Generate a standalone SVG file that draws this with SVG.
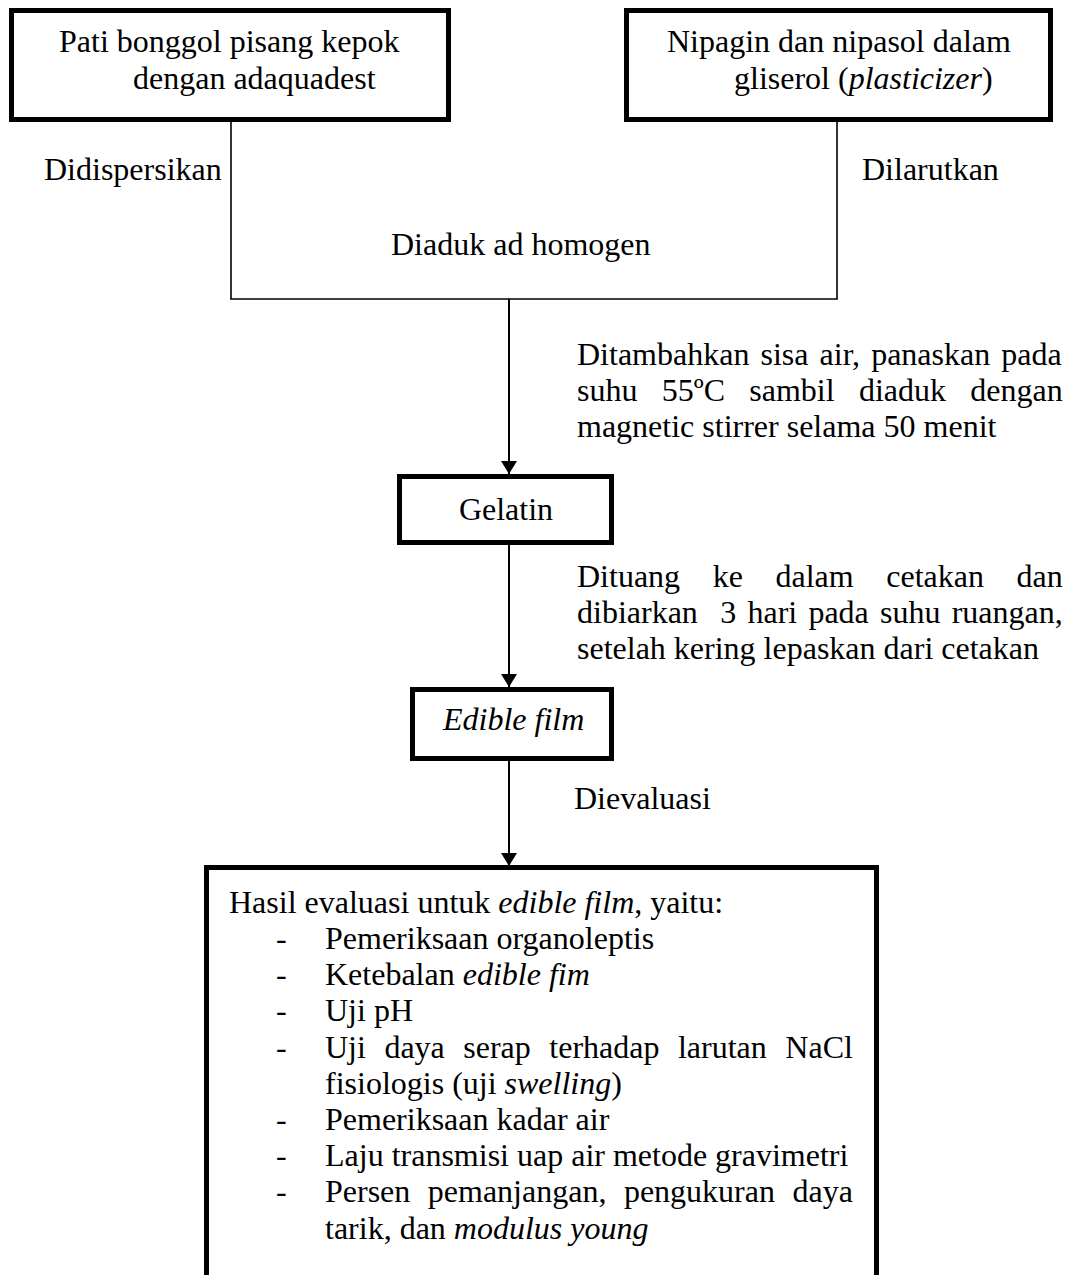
<svg xmlns="http://www.w3.org/2000/svg" width="1075" height="1275" viewBox="0 0 1075 1275">
<style>
text { font-family: "Liberation Serif", "Times New Roman", serif; font-size: 32px; fill: #000; }
.it { font-style: italic; }
.box { fill: #fff; stroke: #000; stroke-width: 5; }
.thin { stroke: #000; stroke-width: 1.6; fill: none; }
.main { stroke: #000; stroke-width: 2; fill: none; }
</style>
<defs>
<marker id="arr" viewBox="0 0 13 16" refX="13" refY="8" markerWidth="13" markerHeight="16" markerUnits="userSpaceOnUse" orient="auto">
<path d="M0,0 L13,8 L0,16 z" fill="#000"/>
</marker>
</defs>
<rect width="1075" height="1275" fill="#fff"/>

<g id="connectors">
<line class="thin" x1="231" y1="122" x2="231" y2="299"/>
<line class="thin" x1="837" y1="122" x2="837" y2="299"/>
<line class="thin" x1="230.2" y1="299" x2="837.8" y2="299"/>
<line class="main" x1="509" y1="299" x2="509" y2="474" marker-end="url(#arr)"/>
<line class="main" x1="509" y1="545" x2="509" y2="687" marker-end="url(#arr)"/>
<line class="main" x1="509" y1="761" x2="509" y2="866" marker-end="url(#arr)"/>
</g>

<g id="labels">
<text x="44" y="180">Didispersikan</text>
<text x="862" y="180">Dilarutkan</text>
<text x="391" y="255">Diaduk ad homogen</text>
<text x="577" y="365" word-spacing="3.1">Ditambahkan sisa air, panaskan pada</text>
<text x="577" y="401" word-spacing="16.3">suhu 55ºC sambil diaduk dengan</text>
<text x="577" y="437">magnetic stirrer selama 50 menit</text>
<text x="577" y="587" word-spacing="24.6">Dituang ke dalam cetakan dan</text>
<text x="577" y="623" word-spacing="3.2" xml:space="preserve">dibiarkan  3 hari pada suhu ruangan,</text>
<text x="577" y="659">setelah kering lepaskan dari cetakan</text>
<text x="574" y="809">Dievaluasi</text>
</g>

<g id="node-pati">
<rect class="box" x="11.5" y="10.5" width="437" height="109"/>
<text x="59" y="52">Pati bonggol pisang kepok</text>
<text x="133" y="89">dengan adaquadest</text>
</g>

<g id="node-nipagin">
<rect class="box" x="626.5" y="10.5" width="424" height="109"/>
<text x="667" y="52">Nipagin dan nipasol dalam</text>
<text x="734" y="89">gliserol (<tspan class="it">plasticizer</tspan>)</text>
</g>

<g id="node-gelatin">
<rect class="box" x="399.5" y="476.5" width="212" height="66"/>
<text x="506" y="520" text-anchor="middle">Gelatin</text>
</g>

<g id="node-edible">
<rect class="box" x="412.5" y="689.5" width="199" height="69"/>
<text x="443" y="730" class="it">Edible film</text>
</g>

<g id="node-hasil">
<rect class="box" x="206.5" y="867.5" width="670" height="500"/>
<text x="229" y="913">Hasil evaluasi untuk <tspan class="it">edible film</tspan>, yaitu:</text>
<text x="276" y="949">-</text>
<text x="325" y="949">Pemeriksaan organoleptis</text>
<text x="276" y="985">-</text>
<text x="325" y="985">Ketebalan <tspan class="it">edible fim</tspan></text>
<text x="276" y="1021">-</text>
<text x="325" y="1021">Uji pH</text>
<text x="276" y="1058">-</text>
<text x="325" y="1058" word-spacing="10.5">Uji daya serap terhadap larutan NaCl</text>
<text x="325" y="1094">fisiologis (uji <tspan class="it">swelling</tspan>)</text>
<text x="276" y="1130">-</text>
<text x="325" y="1130">Pemeriksaan kadar air</text>
<text x="276" y="1166">-</text>
<text x="325" y="1166">Laju transmisi uap air metode gravimetri</text>
<text x="276" y="1202">-</text>
<text x="325" y="1202" word-spacing="9.5">Persen pemanjangan, pengukuran daya</text>
<text x="325" y="1239">tarik, dan <tspan class="it">modulus young</tspan></text>
</g>
</svg>
